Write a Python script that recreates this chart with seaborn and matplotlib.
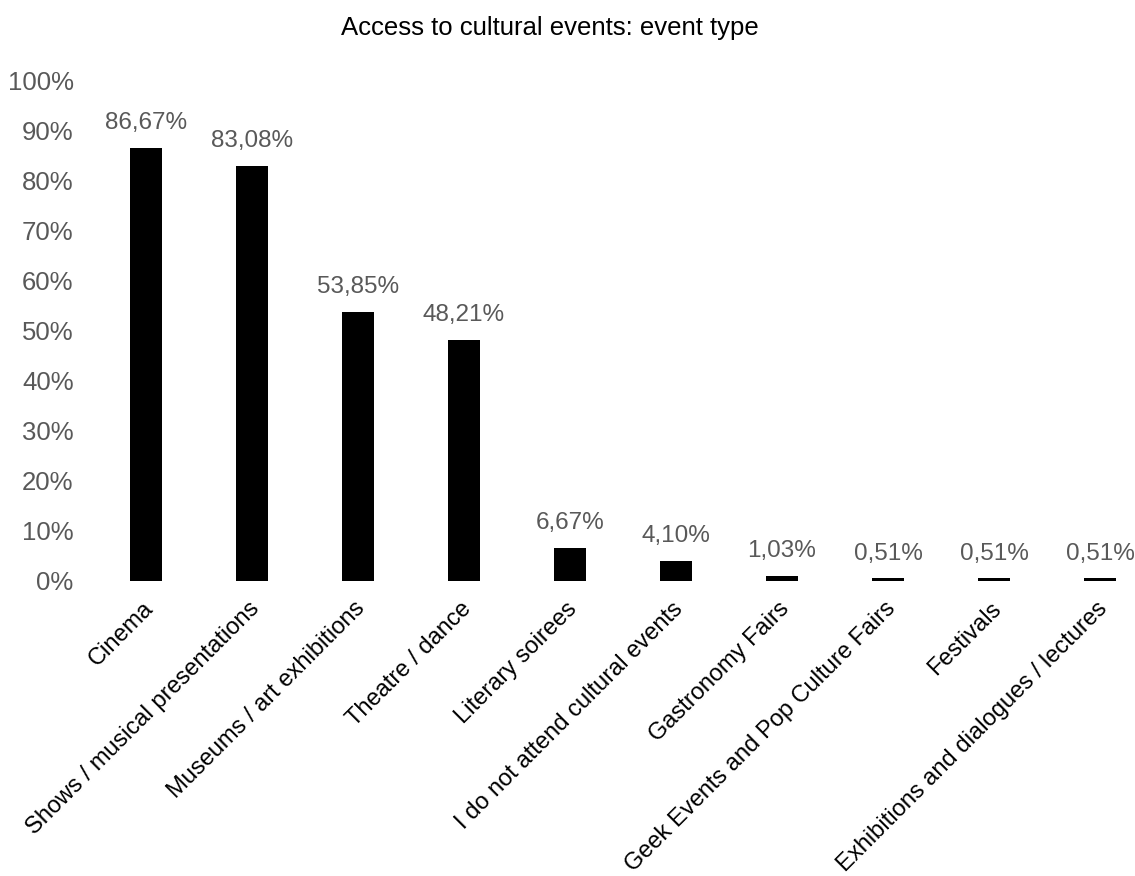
import matplotlib
matplotlib.use("Agg")
import matplotlib.pyplot as plt
from matplotlib.transforms import ScaledTranslation
import seaborn as sns
import pandas as pd

categories = ["Cinema", "Shows / musical presentations", "Museums / art exhibitions",
              "Theatre / dance", "Literary soirees", "I do not attend cultural events",
              "Gastronomy Fairs", "Geek Events and Pop Culture Fairs", "Festivals",
              "Exhibitions and dialogues / lectures"]
values = [86.67, 83.08, 53.85, 48.21, 6.67, 4.10, 1.03, 0.51, 0.51, 0.51]
yticks = [0, 10, 20, 30, 40, 50, 60, 70, 80, 90, 100]

sns.set_theme(style="white")
plt.rcParams['font.family'] = ['Liberation Sans', 'DejaVu Sans']

df = pd.DataFrame({"cat": categories, "val": values})

W, H = 1135, 876
fig = plt.figure(figsize=(W / 100, H / 100), dpi=100)
left = 93 / W
bottom = (H - 581) / H
top = (H - 81) / H
ax = fig.add_axes([left, bottom, 1 - left, top - bottom])

sns.barplot(data=df, x="cat", y="val", color="black", width=0.31, ax=ax,
            saturation=1, edgecolor="black", linewidth=0)

ax.set_ylim(0, 100)
ax.set_xlim(-0.5, 9.33)
ax.set_yticks(yticks)
ax.set_yticklabels([f"{t}%" for t in yticks], color="#595959", fontsize=18.5)
ax.tick_params(axis="y", length=0, pad=14)
ax.tick_params(axis="x", length=0, pad=12)
ax.set_xticks(range(len(categories)))
ax.set_xticklabels(categories, rotation=45, ha="right", rotation_mode="anchor",
                   fontsize=17, color="black")
for lab in ax.get_xticklabels():
    lab.set_transform(lab.get_transform() + ScaledTranslation(-4 / 100, 0, fig.dpi_scale_trans))
ax.set_xlabel("")
ax.set_ylabel("")
for s in ax.spines.values():
    s.set_visible(False)

for i, v in enumerate(values):
    ax.annotate(f"{v:.2f}%".replace(".", ","), (i, v), xytext=(0, 10),
                textcoords="offset points", ha="center", va="bottom",
                fontsize=17.5, color="#595959")

fig.text(550 / W, 1 - 28 / H, "Access to cultural events: event type", ha="center",
         va="center", fontsize=18.5, color="black")

fig.savefig("out.png", dpi=100)
